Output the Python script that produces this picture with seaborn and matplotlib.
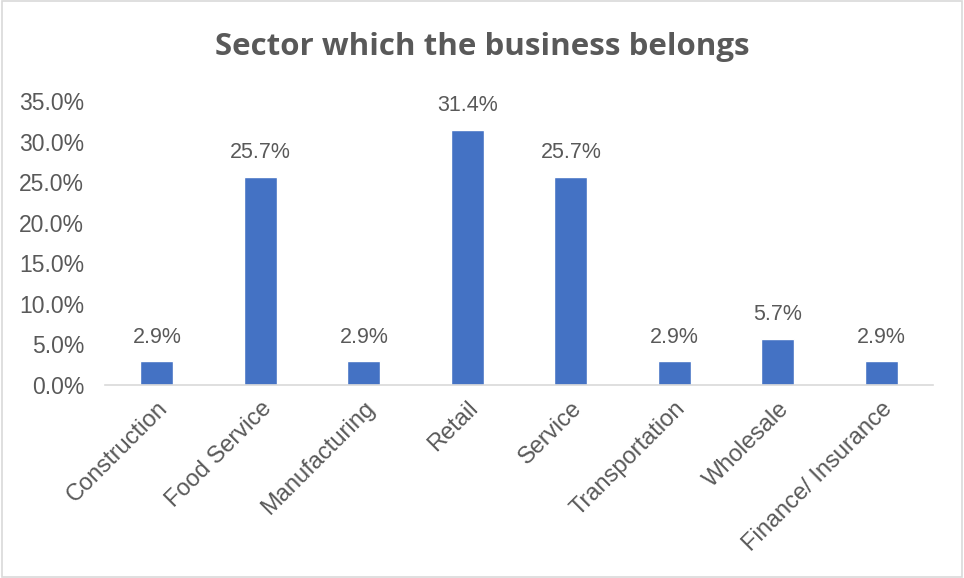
import matplotlib
matplotlib.use("Agg")
import matplotlib.pyplot as plt
import seaborn as sns
import pandas as pd
from matplotlib.ticker import PercentFormatter
from matplotlib.patches import Rectangle

sectors = ["Construction", "Food Service", "Manufacturing", "Retail",
           "Service", "Transportation", "Wholesale", "Finance/ Insurance"]
shares = [2.9, 25.7, 2.9, 31.4, 25.7, 2.9, 5.7, 2.9]
y_ticks = [0, 5, 10, 15, 20, 25, 30, 35]
title = "Sector which the business belongs"

df = pd.DataFrame({"sector": sectors, "share": shares})

sns.set_theme(style="white")
plt.rcParams["font.family"] = ["Liberation Sans", "DejaVu Sans"]

text_color = "#595959"
bar_color = "#4472C4"

fig = plt.figure(figsize=(9.64, 5.78), dpi=100)
ax = fig.add_axes([0.109, 0.334, 0.859, 0.491])

sns.barplot(data=df, x="sector", y="share", color=bar_color, width=0.32,
            saturation=1, ax=ax)

ax.set_ylim(0, 35)
ax.set_yticks(y_ticks)
ax.yaxis.set_major_formatter(PercentFormatter(decimals=1))
ax.set_xlim(-0.5, len(sectors) - 0.5)
ax.set_xlabel("")
ax.set_ylabel("")

for s in ["top", "right", "left"]:
    ax.spines[s].set_visible(False)
ax.spines["bottom"].set_color("#D9D9D9")
ax.spines["bottom"].set_linewidth(1.2)
ax.tick_params(axis="both", length=0, colors=text_color)
ax.tick_params(axis="y", pad=15, labelsize=16.5)
ax.tick_params(axis="x", pad=9, labelsize=17)
plt.setp(ax.get_xticklabels(), rotation=45, ha="right", rotation_mode="anchor")

for container in ax.containers:
    ax.bar_label(container, fmt="%.1f%%", padding=10, color=text_color,
                 fontsize=15.5)

fig.text(0.5, 0.918, title, ha="center", va="center", fontsize=22.5,
         fontweight="bold", color=text_color, family=["Open Sans", "DejaVu Sans"])

fig.patches.append(Rectangle((0.002, 0.002), 0.996, 0.996, transform=fig.transFigure,
                             fill=False, edgecolor="#D9D9D9", linewidth=1.2))

fig.savefig("out.png", dpi=100)
